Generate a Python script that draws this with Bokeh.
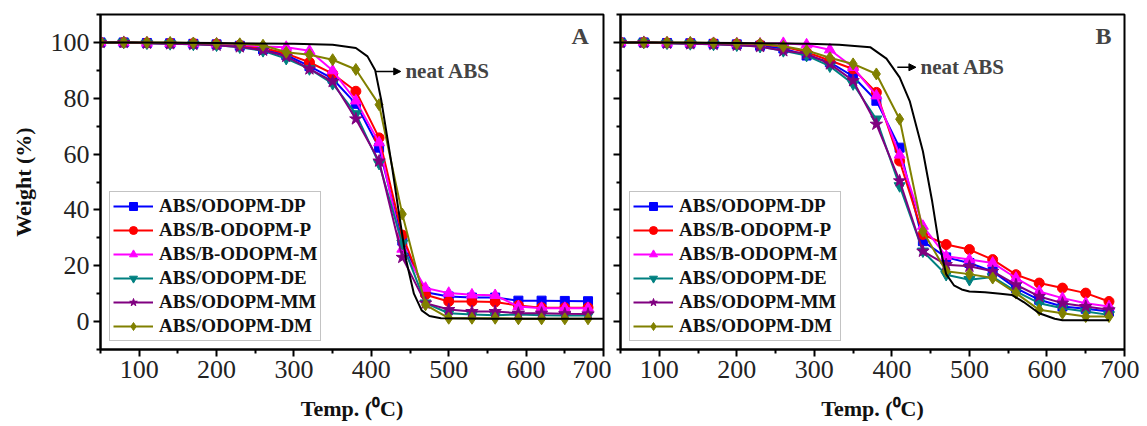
from bokeh.plotting import figure
from bokeh.layouts import row
from bokeh.models import FixedTicker, Label, Arrow, NormalHead, Range1d
from bokeh.embed import file_html
from bokeh.resources import INLINE

# ---------------- data ----------------
temps = [50, 80, 110, 140, 170, 200, 230, 260, 290, 320, 350, 380, 410, 440,
         470, 500, 530, 560, 590, 620, 650, 680]

series_names = ["ABS/ODOPM-DP", "ABS/B-ODOPM-P", "ABS/B-ODOPM-M",
                "ABS/ODOPM-DE", "ABS/ODOPM-MM", "ABS/ODOPM-DM"]

# Panel A
a_dp = [100, 100, 99.8, 99.7, 99.5, 99.3, 98.8, 97.5, 95.5, 91.5, 87.0, 78.0, 62.3, 29.0,
        10.5, 9.0, 8.6, 8.6, 7.5, 7.5, 7.4, 7.3]
a_bp = [100, 100, 99.8, 99.7, 99.6, 99.4, 99.0, 98.0, 96.0, 92.9, 88.8, 82.5, 65.8, 31.0,
        9.6, 7.2, 7.2, 7.0, 5.8, 5.0, 5.0, 5.0]
a_bm = [100, 100, 99.8, 99.7, 99.6, 99.5, 99.2, 98.5, 98.3, 97.0, 89.9, 79.1, 64.1, 26.0,
        12.0, 10.2, 9.6, 9.4, 5.4, 4.8, 4.8, 4.8]
a_de = [100, 100, 99.7, 99.5, 99.3, 99.0, 98.3, 97.0, 94.2, 90.5, 85.2, 74.4, 56.6, 28.0,
        6.6, 3.0, 2.5, 2.3, 2.5, 2.3, 2.2, 2.2]
a_mm = [100, 100, 99.7, 99.5, 99.3, 99.0, 98.4, 97.2, 95.0, 90.5, 86.0, 72.6, 57.5, 23.0,
        6.6, 4.3, 3.6, 3.6, 3.0, 3.0, 2.8, 2.7]
a_dm = [100, 100, 100, 100, 99.8, 99.6, 99.5, 99.0, 96.5, 95.6, 93.8, 90.3, 77.7, 38.5,
        6.0, 1.2, 1.2, 1.2, 1.0, 1.0, 1.0, 1.0]
neat_a_t = [50, 100, 200, 300, 350, 380, 395, 405, 413, 420, 427, 435, 445, 455, 465, 475,
            490, 550, 700]
neat_a_w = [100, 100, 99.8, 99.5, 99.2, 98.0, 95.0, 90.0, 79.0, 67.0, 55.0, 40.0, 22.0,
            10.0, 4.0, 2.0, 1.2, 1.0, 1.0]

# Panel B
b_dp = [100, 100, 99.8, 99.7, 99.5, 99.3, 98.8, 97.8, 95.3, 92.9, 87.8, 79.1, 62.3, 28.8,
        23.0, 21.0, 18.0, 12.0, 7.8, 5.4, 4.6, 3.6]
b_bp = [100, 100, 99.8, 99.7, 99.6, 99.4, 99.2, 98.5, 96.5, 93.5, 90.5, 82.1, 57.5, 31.2,
        27.6, 25.8, 22.2, 16.8, 13.8, 12.0, 10.2, 7.2]
b_bm = [100, 100, 99.8, 99.8, 99.7, 99.6, 99.5, 99.7, 99.2, 97.4, 91.1, 80.9, 59.7, 34.2,
        23.4, 22.2, 21.0, 15.6, 10.8, 8.4, 6.6, 5.4]
b_de = [100, 100, 99.7, 99.5, 99.3, 99.0, 98.5, 97.0, 95.3, 91.5, 85.1, 72.5, 48.6, 25.2,
        16.8, 15.0, 16.0, 10.8, 6.6, 4.8, 3.6, 2.4]
b_mm = [100, 100, 99.7, 99.5, 99.3, 99.0, 98.5, 97.0, 96.0, 92.3, 86.3, 70.7, 50.4, 25.2,
        20.4, 19.8, 18.0, 13.2, 9.0, 6.6, 5.4, 4.2]
b_dm = [100, 100, 100, 100, 99.8, 99.6, 99.5, 98.6, 97.1, 94.5, 92.3, 88.7, 72.5, 32.4,
        18.0, 17.0, 15.6, 10.2, 4.2, 3.0, 1.8, 1.8]
neat_b_t = [50, 100, 200, 293, 332, 372, 393, 410, 423, 440, 452, 460, 470, 480, 490, 500,
            520, 540, 555, 570, 590, 610, 620, 680]
neat_b_w = [100, 100, 99.8, 99.5, 99.2, 98.3, 94.2, 87.5, 79.0, 61.0, 43.0, 29.0, 17.0,
            13.0, 11.5, 10.8, 10.5, 10.0, 9.5, 7.0, 3.0, 1.0, 0.5, 0.5]

x_ticks = [100, 200, 300, 400, 500, 600, 700]
x_minor = [50, 150, 250, 350, 450, 550, 650]
y_ticks = [0, 20, 40, 60, 80, 100]
y_minor = [-10, 10, 30, 50, 70, 90, 110]

# ---------------- styles ----------------
colors = ["#0000FF", "#FF0000", "#FF00FF", "#008080", "#800080", "#808000"]
markers = ["square", "circle", "triangle", "inverted_triangle", "star", "diamond"]
msizes = [9, 10, 11, 11, 13, 12]
SERIF = "Liberation Serif"


def make_panel(series, neat_t, neat_w, letter, width, mbl, mbr, show_ylab,
               letter_x, arrow_x0, arrow_x1, arrow_y, text_x):
    p = figure(width=width, height=424, output_backend="svg", toolbar_location=None,
               x_range=Range1d(50, 700), y_range=Range1d(-10, 110),
               min_border_left=mbl, min_border_right=mbr, min_border_top=14,
               min_border_bottom=75)
    p.xgrid.visible = False
    p.ygrid.visible = False
    p.outline_line_color = "black"
    p.outline_line_width = 2
    p.background_fill_color = "white"
    p.border_fill_color = "white"

    for vals, name, c, m, s in zip(series, series_names, colors, markers, msizes):
        p.line(temps, vals, line_color=c, line_width=2, legend_label=name)
        p.scatter(temps, vals, marker=m, size=s, fill_color=c, line_color=c,
                  legend_label=name)
    p.line(neat_t, neat_w, line_color="black", line_width=2)

    # axes
    p.xaxis.ticker = FixedTicker(ticks=x_ticks, minor_ticks=x_minor)
    p.yaxis.ticker = FixedTicker(ticks=y_ticks, minor_ticks=y_minor)
    for ax in (p.xaxis[0], p.yaxis[0]):
        ax.axis_line_width = 2
        ax.major_tick_line_width = 2
        ax.minor_tick_line_width = 2
        ax.major_tick_in = 0
        ax.major_tick_out = 7
        ax.minor_tick_in = 0
        ax.minor_tick_out = 4
        ax.major_label_text_font = SERIF
        ax.major_label_text_font_size = "26px"
        ax.major_label_text_color = "#222222"
        ax.axis_label_text_font = SERIF
        ax.axis_label_text_font_style = "bold"
        ax.axis_label_text_font_size = "22px"
        ax.axis_label_text_color = "#111111"
    p.xaxis.axis_label = "Temp. (\u2070C)"
    p.xaxis.major_label_standoff = 4
    p.xaxis.axis_label_standoff = 15
    if show_ylab:
        p.yaxis.axis_label = "Weight (%)"
        p.yaxis.major_label_standoff = 4
        p.yaxis.axis_label_standoff = 12
    else:
        p.yaxis.major_label_overrides = {t: "" for t in y_ticks}
        p.yaxis.major_label_standoff = 0

    # legend
    lg = p.legend[0]
    lg.location = (9, 8)
    lg.label_text_font = SERIF
    lg.label_text_font_style = "bold"
    lg.label_text_font_size = "19px"
    lg.label_text_color = "#111111"
    lg.glyph_width = 40
    lg.glyph_height = 20
    lg.label_height = 20
    lg.label_standoff = 6
    lg.spacing = 2
    lg.padding = 3
    lg.margin = 0
    lg.border_line_color = "#888888"
    lg.border_line_width = 1.5
    lg.background_fill_color = "white"
    lg.background_fill_alpha = 1.0

    # annotations
    p.add_layout(Label(x=letter_x, y=102.3, text=letter, text_font=SERIF,
                       text_font_style="bold", text_font_size="24px",
                       text_align="center", text_baseline="middle"))
    p.add_layout(Arrow(x_start=arrow_x0, y_start=arrow_y, x_end=arrow_x1, y_end=arrow_y,
                       line_width=1.5, line_color="black",
                       end=NormalHead(size=7, fill_color="black", line_color="black")))
    p.add_layout(Label(x=text_x, y=arrow_y, text="neat ABS", text_font=SERIF,
                       text_font_style="bold", text_font_size="21px",
                       text_align="left", text_baseline="middle"))
    return p


pA = make_panel([a_dp, a_bp, a_bm, a_de, a_mm, a_dm], neat_a_t, neat_a_w, "A",
                width=611, mbl=100, mbr=8, show_ylab=True,
                letter_x=670, arrow_x0=405, arrow_x1=438, arrow_y=89.6, text_x=444)
pB = make_panel([b_dp, b_bp, b_bm, b_de, b_mm, b_dm], neat_b_t, neat_b_w, "B",
                width=528, mbl=9, mbr=15, show_ylab=False,
                letter_x=673, arrow_x0=407, arrow_x1=431, arrow_y=91.1, text_x=437)

layout = row(pA, pB)
open("out.html", "w").write(file_html(layout, INLINE))
